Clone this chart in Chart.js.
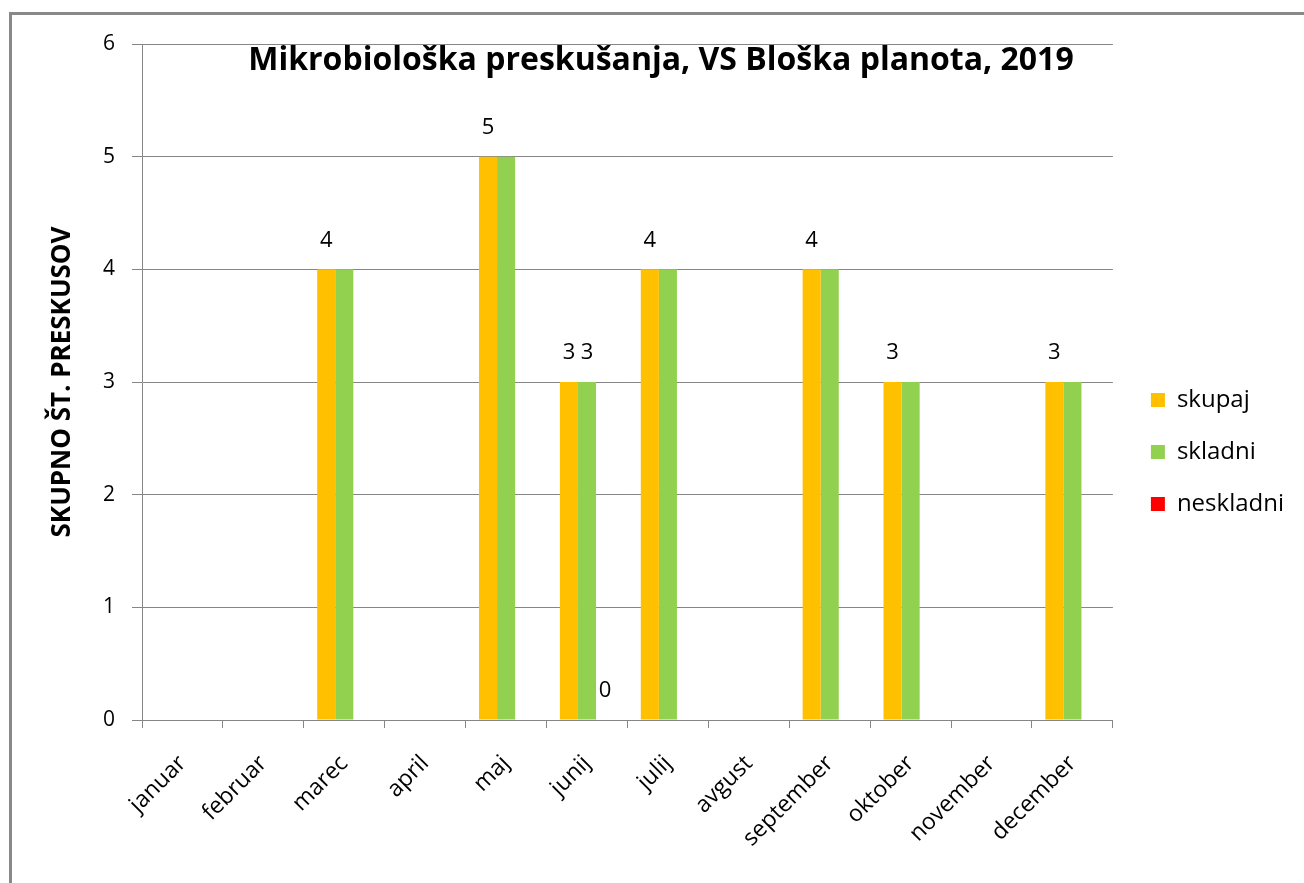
<!DOCTYPE html>
<html>
<head>
<meta charset="utf-8">
<title>Mikrobiološka preskušanja</title>
<script src="https://cdn.jsdelivr.net/npm/chart.js"></script>
<style>
html, body { margin: 0; padding: 0; background: #fff; }
#wrap { position: relative; width: 1304px; height: 883px; overflow: hidden; }
#frame { position: absolute; left: 9px; top: 12px; width: 1400px; height: 1000px;
  border-left: 3px solid #898989; border-top: 3px solid #898989; }
#c { position: absolute; left: 0; top: 0; }
</style>
</head>
<body>
<div id="wrap"><div id="frame"></div><canvas id="c" width="1304" height="883"></canvas></div>
<script>
(function() {
'use strict';

const FONT = '"Open Sans", "Noto Sans", sans-serif';
const TITLE = 'Mikrobiološka preskušanja, VS Bloška planota, 2019';
const Y_TITLE = 'SKUPNO ŠT. PRESKUSOV';

const months = ['januar', 'februar', 'marec', 'april', 'maj', 'junij',
  'julij', 'avgust', 'september', 'oktober', 'november', 'december'];
const skupaj    = [null, null, 4, null, 5, 3, 4, null, 4, 3, null, 3];
const skladni   = [null, null, 4, null, 5, 3, 4, null, 4, 3, null, 3];
const neskladni = [null, null, 0, null, 0, 0, 0, null, 0, 0, null, 0];

// which values got a data label in the original
const skupajLabels    = [null, null, 4, null, 5, 3, 4, null, 4, 3, null, 3];
const skladniLabels   = [null, null, null, null, null, 3, null, null, null, null, null, null];
const neskladniLabels = [null, null, null, null, null, 0, null, null, null, null, null, null];

const yMin = 0, yMax = 6, yStep = 1;

const GRID = '#868686';

const valueLabels = {
  id: 'valueLabels',
  afterDatasetsDraw(chart) {
    const sets = [skupajLabels, skladniLabels, neskladniLabels];
    const ctx = chart.ctx;
    ctx.save();
    ctx.font = '22px ' + FONT;
    ctx.fillStyle = '#000';
    ctx.textAlign = 'center';
    ctx.textBaseline = 'middle';
    sets.forEach((arr, di) => {
      const meta = chart.getDatasetMeta(di);
      arr.forEach((v, i) => {
        if (v == null) return;
        const el = meta.data[i];
        if (!el) return;
        ctx.fillText(String(v), el.x, el.y - 29);
      });
    });
    ctx.restore();
  }
};

const innerTitle = {
  id: 'innerTitle',
  afterDraw(chart) {
    const ctx = chart.ctx;
    ctx.save();
    ctx.font = 'bold 32px ' + FONT;
    ctx.fillStyle = '#000';
    ctx.textAlign = 'center';
    ctx.textBaseline = 'middle';
    ctx.fillText(TITLE, 661, 61);
    ctx.restore();
  }
};

new Chart(document.getElementById('c'), {
  type: 'bar',
  data: {
    labels: months,
    datasets: [
      {label: 'skupaj', data: skupaj, backgroundColor: '#FFC000'},
      {label: 'skladni', data: skladni, backgroundColor: '#92D050'},
      {label: 'neskladni', data: neskladni, backgroundColor: '#FF0000'}
    ]
  },
  options: {
    responsive: false,
    animation: false,
    events: [],
    datasets: {bar: {barPercentage: 1, categoryPercentage: 0.67, borderWidth: 0}},
    layout: {padding: {top: 44, left: 43, right: 10, bottom: 23}},
    plugins: {
      tooltip: {enabled: false},
      title: {display: false},
      legend: {
        position: 'right',
        align: 'center',
        labels: {
          boxWidth: 14,
          boxHeight: 14,
          padding: 28,
          color: '#000',
          font: {family: FONT, size: 24}
        }
      }
    },
    scales: {
      x: {
        grid: {drawOnChartArea: false, drawTicks: true, tickLength: 8, color: GRID, offset: true},
        border: {color: GRID},
        ticks: {
          minRotation: 45, maxRotation: 45, autoSkip: false, padding: 22,
          color: '#000', font: {family: FONT, size: 23}
        },
        afterFit(s) { s.height = 140; }
      },
      y: {
        min: yMin, max: yMax,
        grid: {color: GRID, tickLength: 10},
        border: {color: GRID},
        ticks: {stepSize: yStep, padding: 17, color: '#000', font: {family: FONT, size: 21}},
        title: {
          display: true, text: Y_TITLE, color: '#000', padding: 4,
          font: {family: FONT, size: 26, weight: 'bold'}
        },
        afterFit(s) { s.width = 99; }
      },
      y2: {
        position: 'right',
        grid: {display: false},
        border: {display: false},
        ticks: {display: false},
        afterFit(s) { s.width = 10; }
      }
    }
  },
  plugins: [valueLabels, innerTitle]
});
})();
</script>
</body>
</html>
